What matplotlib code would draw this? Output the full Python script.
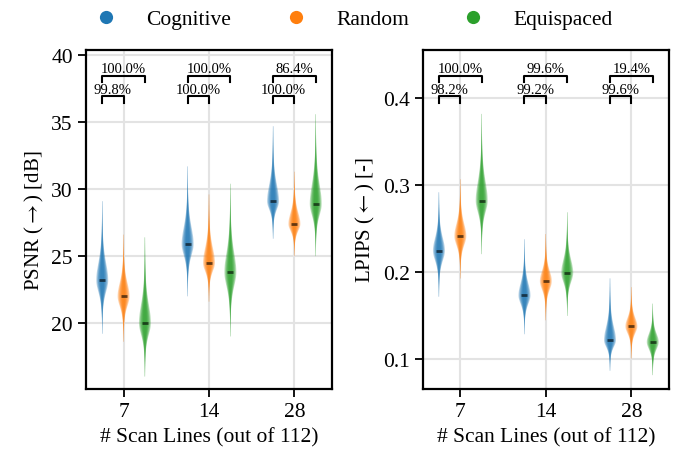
import numpy as np
import matplotlib
matplotlib.use('Agg')
import matplotlib.pyplot as plt
from matplotlib.lines import Line2D

plt.rcParams['font.family'] = ['Liberation Serif', 'DejaVu Serif']
plt.rcParams['mathtext.fontset'] = 'stix'

groups = ['7', '14', '28']
methods = ['Cognitive', 'Random', 'Equispaced']
colors = ['#1f77b4', '#ff7f0e', '#2ca02c']

# rows: Cognitive, Random, Equispaced ; columns: 7, 14, 28 scan lines
psnr_median = [[23.2, 25.9, 29.1], [22.0, 24.5, 27.4], [20.0, 23.8, 28.9]]
psnr_low = [[19.2, 22.0, 26.3], [18.6, 21.6, 25.0], [16.0, 19.0, 25.0]]
psnr_high = [[29.1, 31.7, 34.7], [26.6, 29.6, 31.3], [26.4, 30.4, 35.6]]

lpips_median = [[0.225, 0.1735, 0.122], [0.2417, 0.190, 0.138], [0.2825, 0.1995, 0.120]]
lpips_low = [[0.172, 0.129, 0.087], [0.193, 0.145, 0.101], [0.221, 0.150, 0.082]]
lpips_high = [[0.292, 0.238, 0.193], [0.307, 0.244, 0.183], [0.382, 0.269, 0.164]]

# probability that Cognitive beats Random (lower) / Equispaced (upper)
psnr_pct_lower = ['99.8%', '100.0%', '100.0%']
psnr_pct_upper = ['100.0%', '100.0%', '86.4%']
lpips_pct_lower = ['98.2%', '99.2%', '99.6%']
lpips_pct_upper = ['100.0%', '99.6%', '19.4%']

offsets = [-0.25, 0.0, 0.25]


def violin_stats(med, lo, hi, nu=4.0):
    coords = np.linspace(lo, hi, 400)
    s_lo = (med - lo) / 4.0
    s_hi = (hi - med) / 4.0
    z = np.where(coords < med, (coords - med) / s_lo, (coords - med) / s_hi)
    vals = (1 + z ** 2 / nu) ** (-(nu + 1) / 2)
    return dict(coords=coords, vals=vals, mean=med, median=med, min=lo, max=hi)


def draw_panel(ax, med, low, high, pct_lower, pct_upper, ylim, yticks, ylabel):
    for m in range(3):
        pos = [g + offsets[m] for g in range(3)]
        stats = [violin_stats(med[m][g], low[m][g], high[m][g]) for g in range(3)]
        # stacked layers give the soft edge
        for s in np.linspace(1.0, 0.3, 6):
            parts = ax.violin(stats, positions=pos, widths=0.14 * s, showmeans=False,
                              showextrema=False, showmedians=False)
            for b in parts['bodies']:
                b.set_facecolor(colors[m])
                b.set_edgecolor('none')
                b.set_alpha(0.3)
                b.set_zorder(2)
        ax.hlines(med[m], [p - 0.035 for p in pos], [p + 0.035 for p in pos],
                  color='k', alpha=0.6, lw=2.0, zorder=3)

    ax.set_xlim(-0.44, 2.44)
    ax.set_ylim(*ylim)
    ax.set_yticks(yticks)
    ax.set_xticks(range(3))
    ax.set_xticklabels(groups)
    ax.grid(True, color='#e3e3e3', lw=1.5, zorder=0)
    ax.set_axisbelow(True)
    ax.set_xlabel('# Scan Lines (out of 112)', fontsize=15.5)
    ax.set_ylabel(ylabel, fontsize=15)
    ax.tick_params(labelsize=15.5, length=6, width=1.3)
    for sp in ax.spines.values():
        sp.set_linewidth(1.6)

    tr = ax.get_xaxis_transform()
    for g in range(3):
        x0 = g + offsets[0]
        for x1, ybar, ylegs, txt in [(g + offsets[1], 0.863, 0.845, pct_lower[g]),
                                     (g + offsets[2], 0.924, 0.905, pct_upper[g])]:
            ax.plot([x0, x0, x1, x1], [ylegs, ybar, ybar, ylegs], color='k', lw=1.5,
                    transform=tr, clip_on=False, zorder=4)
            ax.text((x0 + x1) / 2, ybar + 0.002, txt, transform=tr, ha='center',
                    va='bottom', fontsize=10.5)


fig = plt.figure(figsize=(6.81, 4.6), dpi=100)
ax1 = fig.add_axes([0.1263, 0.1522, 0.3612, 0.737])
ax2 = fig.add_axes([0.6207, 0.1522, 0.3617, 0.737])

draw_panel(ax1, psnr_median, psnr_low, psnr_high, psnr_pct_lower, psnr_pct_upper,
           (15.07, 40.4), [20, 25, 30, 35, 40], r'PSNR ($\rightarrow$) [dB]')
draw_panel(ax2, lpips_median, lpips_low, lpips_high, lpips_pct_lower, lpips_pct_upper,
           (0.066, 0.4555), [0.1, 0.2, 0.3, 0.4], r'LPIPS ($\leftarrow$) [-]')

handles = [Line2D([], [], ls='none', marker='o', markersize=9.5, color=c, markeredgewidth=0)
           for c in colors]
fig.legend(handles, methods, loc='upper center', bbox_to_anchor=(0.512, 1.02), ncol=3,
           frameon=False, fontsize=15.5, handlelength=2.0, handletextpad=0.875,
           columnspacing=2.0)

fig.savefig('out.png', dpi=100)
